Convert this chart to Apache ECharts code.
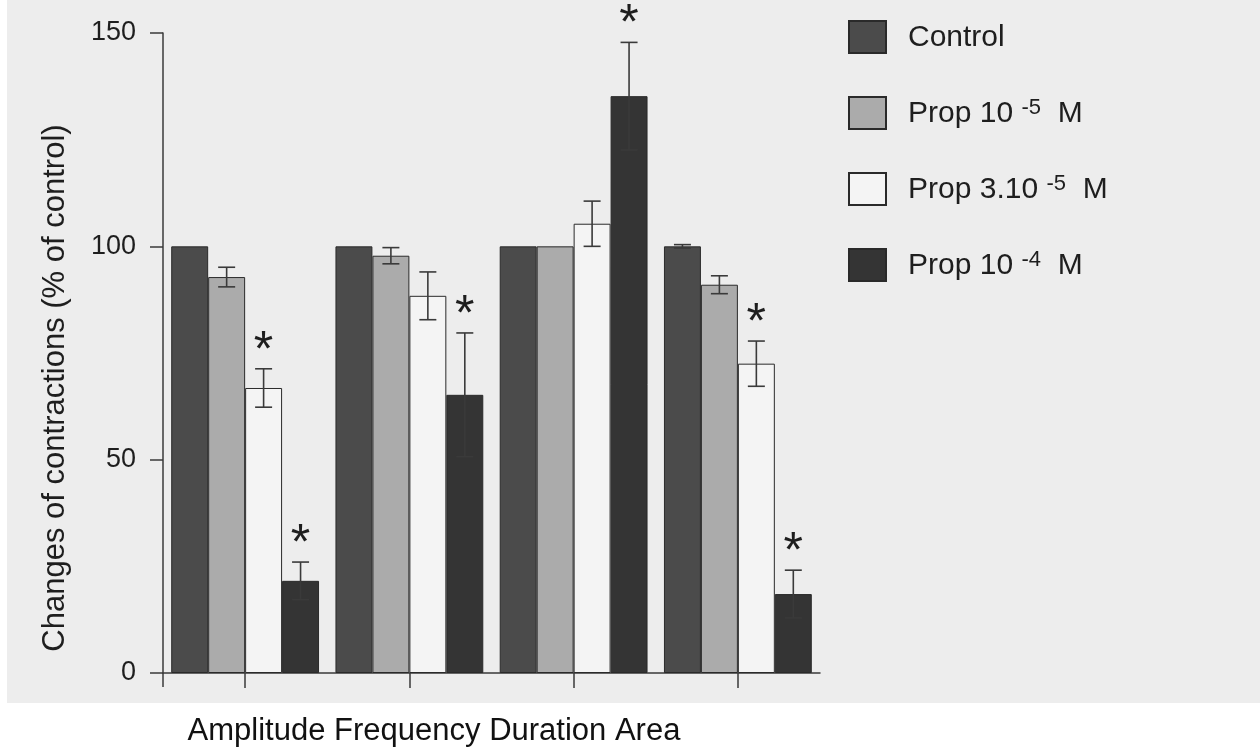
<!DOCTYPE html>
<html>
<head>
<meta charset="utf-8">
<script src="https://cdn.jsdelivr.net/npm/echarts@6.0.0/dist/echarts.min.js"></script>
<style>html,body{margin:0;padding:0;background:#fff;}#c{width:1260px;height:755px;}</style>
</head>
<body>
<div id="c"></div>
<script>
// ---- data ----
const categories = ['Amplitude', 'Frequency', 'Duration', 'Area'];
const seriesNames = ['Control', 'Prop 10-5 M', 'Prop 3.10-5 M', 'Prop 10-4 M'];
const legendBase = ['Control', 'Prop 10', 'Prop 3.10', 'Prop 10'];
const legendExp = ['', '-5', '-5', '-4'];
const control = [100, 100, 100, 100];
const prop5 = [92.8, 97.8, 100, 91.0];
const prop3 = [66.8, 88.4, 105.3, 72.5];
const prop4 = [21.6, 65.2, 135.2, 18.5];
const errControl = [0, 0, 0, 0.4];
const errProp5 = [2.3, 1.9, 0, 2.1];
const errProp3 = [4.5, 5.6, 5.3, 5.3];
const errProp4 = [4.4, 14.5, 12.6, 5.6];
const starControl = [0, 0, 0, 0];
const starProp5 = [0, 0, 0, 0];
const starProp3 = [1, 0, 0, 1];
const starProp4 = [1, 1, 1, 1];
const yMin = 0, yMax = 150, yStep = 50;
const xAxisText = 'Amplitude Frequency Duration Area';
const yAxisTitle = 'Changes of contractions (% of control)';

// ---- styling ----
const FONT = '"Liberation Sans", Arial, Helvetica, sans-serif';
const colors = ['#4b4b4b', '#ababab', '#f4f4f4', '#343434'];
const gridL = 163, gridR = 440, gridT = 33, gridB = 82;
const catGap = 0.10;

const values = [control, prop5, prop3, prop4];
const errs = [errControl, errProp5, errProp3, errProp4];
const stars = [starControl, starProp5, starProp3, starProp4];

const errData = [];
for (let s = 0; s < 4; s++) {
  for (let c = 0; c < categories.length; c++) {
    if (errs[s][c] > 0 || stars[s][c]) errData.push([c, s, values[s][c], errs[s][c], stars[s][c]]);
  }
}

const chart = echarts.init(document.getElementById('c'), null, {renderer: 'canvas'});

function renderErr(params, api) {
  const cat = api.value(0), si = api.value(1), val = api.value(2), err = api.value(3), star = api.value(4);
  const center = api.coord([cat, val]);
  const W = api.size([1, 0])[0];
  const bw = W * (1 - catGap) / 4;
  const x = center[0] - W * (1 - catGap) / 2 + (si + 0.5) * bw;
  const yTop = api.coord([cat, val + err])[1];
  const yBot = api.coord([cat, val - err])[1];
  const cap = 8.5;
  const ls = {stroke: '#3a3a3a', lineWidth: 1.6};
  const children = [];
  if (err > 0) {
    children.push({type: 'line', shape: {x1: x, y1: yTop, x2: x, y2: yBot}, style: ls});
    children.push({type: 'line', shape: {x1: x - cap, y1: yTop, x2: x + cap, y2: yTop}, style: ls});
    children.push({type: 'line', shape: {x1: x - cap, y1: yBot, x2: x + cap, y2: yBot}, style: ls});
  }
  if (star) {
    children.push({type: 'text', style: {text: '*', x: x, y: yTop - 17, fill: '#1e1e1e',
      font: '50px ' + FONT, align: 'center', verticalAlign: 'middle'}});
  }
  return {type: 'group', children: children};
}

const barSeries = seriesNames.map((n, i) => ({
  name: n, type: 'bar', data: values[i],
  barGap: '0%', barCategoryGap: (catGap * 100) + '%',
  itemStyle: {color: colors[i], borderColor: '#2a2a2a', borderWidth: 1},
  z: 2
}));

const option = {
  animation: false,
  backgroundColor: '#ffffff',
  textStyle: {fontFamily: FONT},
  grid: {left: gridL, right: gridR, top: gridT, bottom: gridB, containLabel: false},
  legend: {
    orient: 'vertical', left: 843, top: 15,
    itemWidth: 37, itemHeight: 32, itemGap: 42, icon: 'rect',
    data: seriesNames,
    formatter: function (name) {
      const i = seriesNames.indexOf(name);
      if (!legendExp[i]) return '{t|' + legendBase[i] + '}';
      return '{t|' + legendBase[i] + ' }{s|' + legendExp[i] + '}{t|  M}';
    },
    textStyle: {
      color: '#1e1e1e', fontSize: 30, fontFamily: FONT, padding: [0, 0, 0, 17],
      rich: {
        t: {fontSize: 30, fontFamily: FONT, color: '#1e1e1e', lineHeight: 32, verticalAlign: 'bottom'},
        s: {fontSize: 22, fontFamily: FONT, color: '#1e1e1e', lineHeight: 30, verticalAlign: 'top'}
      }
    }
  },
  xAxis: {
    type: 'category', data: categories,
    axisLine: {lineStyle: {color: '#3a3a3a', width: 1.5}},
    axisTick: {show: true, alignWithLabel: true, length: 15, lineStyle: {color: '#3a3a3a', width: 1.5}},
    axisLabel: {show: false},
    splitLine: {show: false}
  },
  yAxis: {
    type: 'value', min: yMin, max: yMax, interval: yStep,
    axisLine: {show: true, lineStyle: {color: '#3a3a3a', width: 1.5}},
    axisTick: {show: true, length: 13, lineStyle: {color: '#3a3a3a', width: 1.5}},
    axisLabel: {fontSize: 27, color: '#1e1e1e', margin: 27, fontFamily: FONT},
    splitLine: {show: false}
  },
  graphic: [
    {type: 'rect', z: -10, silent: true, shape: {x: 7, y: 0, width: 1253, height: 703}, style: {fill: '#ededed'}},
    {type: 'line', z: 10, silent: true, shape: {x1: gridL, y1: 755 - gridB, x2: gridL, y2: 755 - gridB + 14},
      style: {stroke: '#3a3a3a', lineWidth: 1.5}},
    {type: 'text', z: 10, silent: true, x: 434, y: 731,
      style: {text: xAxisText, font: '31px ' + FONT, fill: '#111', align: 'center', verticalAlign: 'middle'}},
    {type: 'text', z: 10, silent: true, x: 55, y: 388, rotation: Math.PI / 2,
      style: {text: yAxisTitle, font: '31px ' + FONT, fill: '#1e1e1e', align: 'center', verticalAlign: 'middle'}}
  ],
  series: barSeries.concat([{
    type: 'custom', name: 'err', renderItem: renderErr, data: errData, z: 5,
    encode: {x: 0, y: 2}, silent: true
  }])
};
chart.setOption(option);
</script>
</body>
</html>
